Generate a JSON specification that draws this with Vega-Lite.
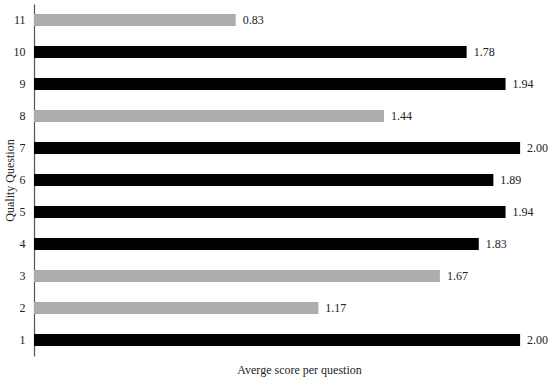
{
  "$schema": "https://vega.github.io/schema/vega-lite/v6.json",
  "width": 516,
  "height": 352,
  "autosize": {"type": "none"},
  "padding": {"left": 34, "top": 4, "right": 0, "bottom": 26},
  "background": "white",
  "config": {
    "view": {"stroke": null},
    "font": "Liberation Serif"
  },
  "data": {
    "values": [
      {"q": 1, "score": 2.00, "group": "black"},
      {"q": 2, "score": 1.17, "group": "gray"},
      {"q": 3, "score": 1.67, "group": "gray"},
      {"q": 4, "score": 1.83, "group": "black"},
      {"q": 5, "score": 1.94, "group": "black"},
      {"q": 6, "score": 1.89, "group": "black"},
      {"q": 7, "score": 2.00, "group": "black"},
      {"q": 8, "score": 1.44, "group": "gray"},
      {"q": 9, "score": 1.94, "group": "black"},
      {"q": 10, "score": 1.78, "group": "black"},
      {"q": 11, "score": 0.83, "group": "gray"}
    ]
  },
  "encoding": {
    "y": {
      "field": "q",
      "type": "ordinal",
      "sort": "descending",
      "scale": {"paddingInner": 0.62, "paddingOuter": 0.31},
      "axis": {
        "title": "Quality Question",
        "titleFont": "Liberation Serif",
        "titleFontSize": 12,
        "titleFontWeight": "normal",
        "titleColor": "#222",
        "titlePadding": -3,
        "labelAngle": 0,
        "labelFont": "Liberation Serif",
        "labelFontSize": 12,
        "labelColor": "#222",
        "labelPadding": 9,
        "ticks": false,
        "domainColor": "#555",
        "domainWidth": 1.2
      }
    },
    "x": {
      "field": "score",
      "type": "quantitative",
      "scale": {"domain": [0, 2.123], "nice": false, "zero": true},
      "axis": {
        "title": "Averge score per question",
        "titleFont": "Liberation Serif",
        "titleFontSize": 12,
        "titleFontWeight": "normal",
        "titleColor": "#222",
        "titlePadding": 8,
        "titleX": 265,
        "labels": false,
        "ticks": false,
        "domain": false,
        "grid": false
      }
    }
  },
  "layer": [
    {
      "mark": {"type": "bar"},
      "encoding": {
        "color": {
          "field": "group",
          "type": "nominal",
          "scale": {"domain": ["black", "gray"], "range": ["#000000", "#adadad"]},
          "legend": null
        }
      }
    },
    {
      "mark": {"type": "text", "align": "left", "dx": 7, "fontSize": 12, "color": "#222"},
      "encoding": {
        "text": {"field": "score", "type": "quantitative", "format": ".2f"}
      }
    }
  ]
}
